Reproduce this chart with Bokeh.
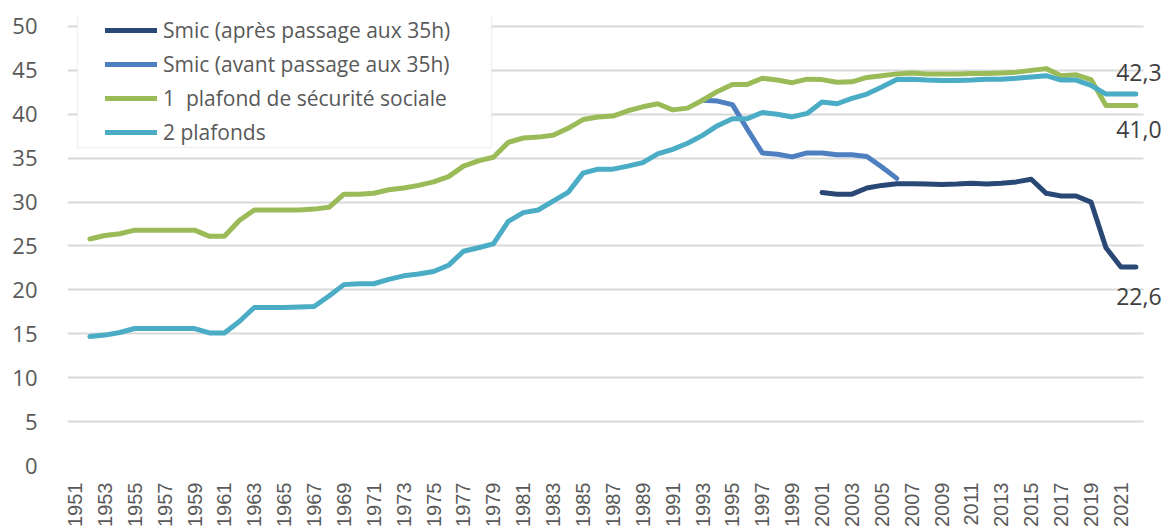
import math
from bokeh.plotting import figure
from bokeh.models import (Range1d, FixedTicker, Legend, LegendItem, Label,
                          BoxAnnotation, ColumnDataSource)
from bokeh.embed import file_html
from bokeh.resources import INLINE

# ---------------- data ----------------
years = list(range(1952, 2023))

plafond1 = [25.8, 26.2, 26.4, 26.8, 26.8, 26.8, 26.8, 26.8, 26.1, 26.1,   # 1952-1961
            27.9, 29.1, 29.1, 29.1, 29.1, 29.2, 29.4, 30.9, 30.9, 31.0,   # 1962-1971
            31.4, 31.6, 31.9, 32.3, 32.9, 34.1, 34.7, 35.1, 36.8, 37.3,   # 1972-1981
            37.4, 37.6, 38.4, 39.4, 39.7, 39.8, 40.4, 40.85, 41.2, 40.5,  # 1982-1991
            40.7, 41.6, 42.6, 43.4, 43.4, 44.1, 43.9, 43.6, 44.0, 43.95,  # 1992-2001
            43.65, 43.7, 44.2, 44.4, 44.6, 44.7, 44.6, 44.6, 44.6, 44.65, # 2002-2011
            44.65, 44.7, 44.8, 45.0, 45.2, 44.4, 44.5, 43.95, 41.0, 41.0, # 2012-2021
            41.0]                                                         # 2022

plafonds2 = [14.7, 14.85, 15.15, 15.6, 15.6, 15.6, 15.6, 15.6, 15.1, 15.1,  # 1952-1961
             16.4, 18.0, 18.0, 18.0, 18.05, 18.1, 19.3, 20.6, 20.7, 20.7,   # 1962-1971
             21.2, 21.6, 21.8, 22.1, 22.8, 24.4, 24.8, 25.25, 27.8, 28.8,   # 1972-1981
             29.1, 30.1, 31.1, 33.3, 33.75, 33.75, 34.1, 34.5, 35.5, 36.0,  # 1982-1991
             36.7, 37.6, 38.7, 39.5, 39.5, 40.2, 40.0, 39.7, 40.1, 41.4,    # 1992-2001
             41.2, 41.8, 42.3, 43.1, 43.95, 44.0, 43.9, 43.85, 43.85, 43.9, # 2002-2011
             44.0, 44.0, 44.1, 44.25, 44.4, 43.9, 43.9, 43.3, 42.3, 42.3,   # 2012-2021
             42.3]                                                          # 2022

smic_avant_years = list(range(1993, 2007))
smic_avant = [41.6, 41.5, 41.1, 38.3, 35.6, 35.45, 35.15, 35.6, 35.6, 35.4,
              35.4, 35.2, 34.0, 32.7]

smic_apres_years = list(range(2001, 2023))
smic_apres = [31.1, 30.9, 30.9, 31.6, 31.9, 32.1, 32.1, 32.05, 32.0, 32.05,
              32.15, 32.05, 32.15, 32.3, 32.6, 31.0, 30.7, 30.7, 30.0, 24.8,
              22.6, 22.6]

series_names = ["Smic (après passage aux 35h)", "Smic (avant passage aux 35h)",
                "1  plafond de sécurité sociale", "2 plafonds"]
colors = ["#2A4876", "#4E7FC0", "#9BBB59", "#4BACC6"]

tick_years = list(range(1951, 2022, 2))
y_ticks = list(range(0, 51, 5))

# ---------------- figure ----------------
# frame: x extends a little past 2022 so that end labels are not clipped,
# y extends a little above 50 so that the legend box fits inside the frame
p = figure(width=1163, height=529, output_backend="svg", toolbar_location=None,
           x_range=Range1d(1950.5, 2023.85), y_range=Range1d(0, 51.25),
           min_border_left=67, min_border_right=0, min_border_top=15,
           min_border_bottom=62)
p.outline_line_color = None
p.background_fill_color = "white"
p.border_fill_color = "white"

p.xgrid.grid_line_color = None
p.ygrid.grid_line_color = "#d9d9d9"
p.ygrid.grid_line_width = 2
p.ygrid.ticker = FixedTicker(ticks=y_ticks)
p.ygrid.cross_bounds = (1950.5, 2022.5)

p.yaxis.ticker = FixedTicker(ticks=y_ticks)
p.yaxis.axis_line_color = None
p.yaxis.major_tick_line_color = None
p.yaxis.minor_tick_line_color = None
p.yaxis.major_label_text_font = "Open Sans"
p.yaxis.major_label_text_font_size = "22px"
p.yaxis.major_label_text_color = "#595959"
p.yaxis.major_label_standoff = 24

p.xaxis.ticker = FixedTicker(ticks=tick_years)
p.xaxis.axis_line_color = None
p.xaxis.major_tick_line_color = None
p.xaxis.minor_tick_line_color = None
p.xaxis.major_tick_out = 0
p.xaxis.major_label_orientation = math.pi / 2
p.xaxis.major_label_text_font = "Liberation Sans"
p.xaxis.major_label_text_font_size = "20px"
p.xaxis.major_label_text_color = "#595959"
p.xaxis.major_label_standoff = 17

src_apres = ColumnDataSource(dict(x=smic_apres_years, y=smic_apres))
src_avant = ColumnDataSource(dict(x=smic_avant_years, y=smic_avant))
src_p1 = ColumnDataSource(dict(x=years, y=plafond1))
src_p2 = ColumnDataSource(dict(x=years, y=plafonds2))

lw = 5
r_apres = p.line("x", "y", source=src_apres, line_color=colors[0], line_width=lw,
                 line_join="round", line_cap="round")
r_avant = p.line("x", "y", source=src_avant, line_color=colors[1], line_width=lw,
                 line_join="round", line_cap="round")
r_p1 = p.line("x", "y", source=src_p1, line_color=colors[2], line_width=lw,
              line_join="round", line_cap="round")
r_p2 = p.line("x", "y", source=src_p2, line_color=colors[3], line_width=lw,
              line_join="round", line_cap="round")

# legend box (screen units, relative to the frame's bottom-left corner)
box = BoxAnnotation(left=10, right=424, bottom=318, top=451,
                    left_units="screen", right_units="screen",
                    bottom_units="screen", top_units="screen",
                    fill_color="white", fill_alpha=1.0,
                    line_color="#d9d9d9", line_width=2)
p.add_layout(box)

legend = Legend(items=[LegendItem(label=n, renderers=[r])
                       for n, r in zip(series_names, [r_apres, r_avant, r_p1, r_p2])],
                location=(38, 318), padding=0, margin=0, spacing=4,
                glyph_width=52, glyph_height=30, label_height=30, label_standoff=6,
                label_text_font="Open Sans", label_text_font_size="21px",
                label_text_color="#595959",
                border_line_color=None, background_fill_alpha=0)
p.add_layout(legend)

def fmt(v):
    return f"{v:.1f}".replace(".", ",")

end_labels = [
    (years[-1], plafonds2[-1], 22),
    (years[-1], plafond1[-1], -24),
    (smic_apres_years[-1], smic_apres[-1], -29),
]
for x, y, off in end_labels:
    p.add_layout(Label(x=x, y=y, text=fmt(y), x_offset=3, y_offset=off,
                       text_align="center", text_baseline="middle",
                       text_font="Open Sans", text_font_size="23px",
                       text_color="#404040"))

open("out.html", "w").write(file_html(p, INLINE))
